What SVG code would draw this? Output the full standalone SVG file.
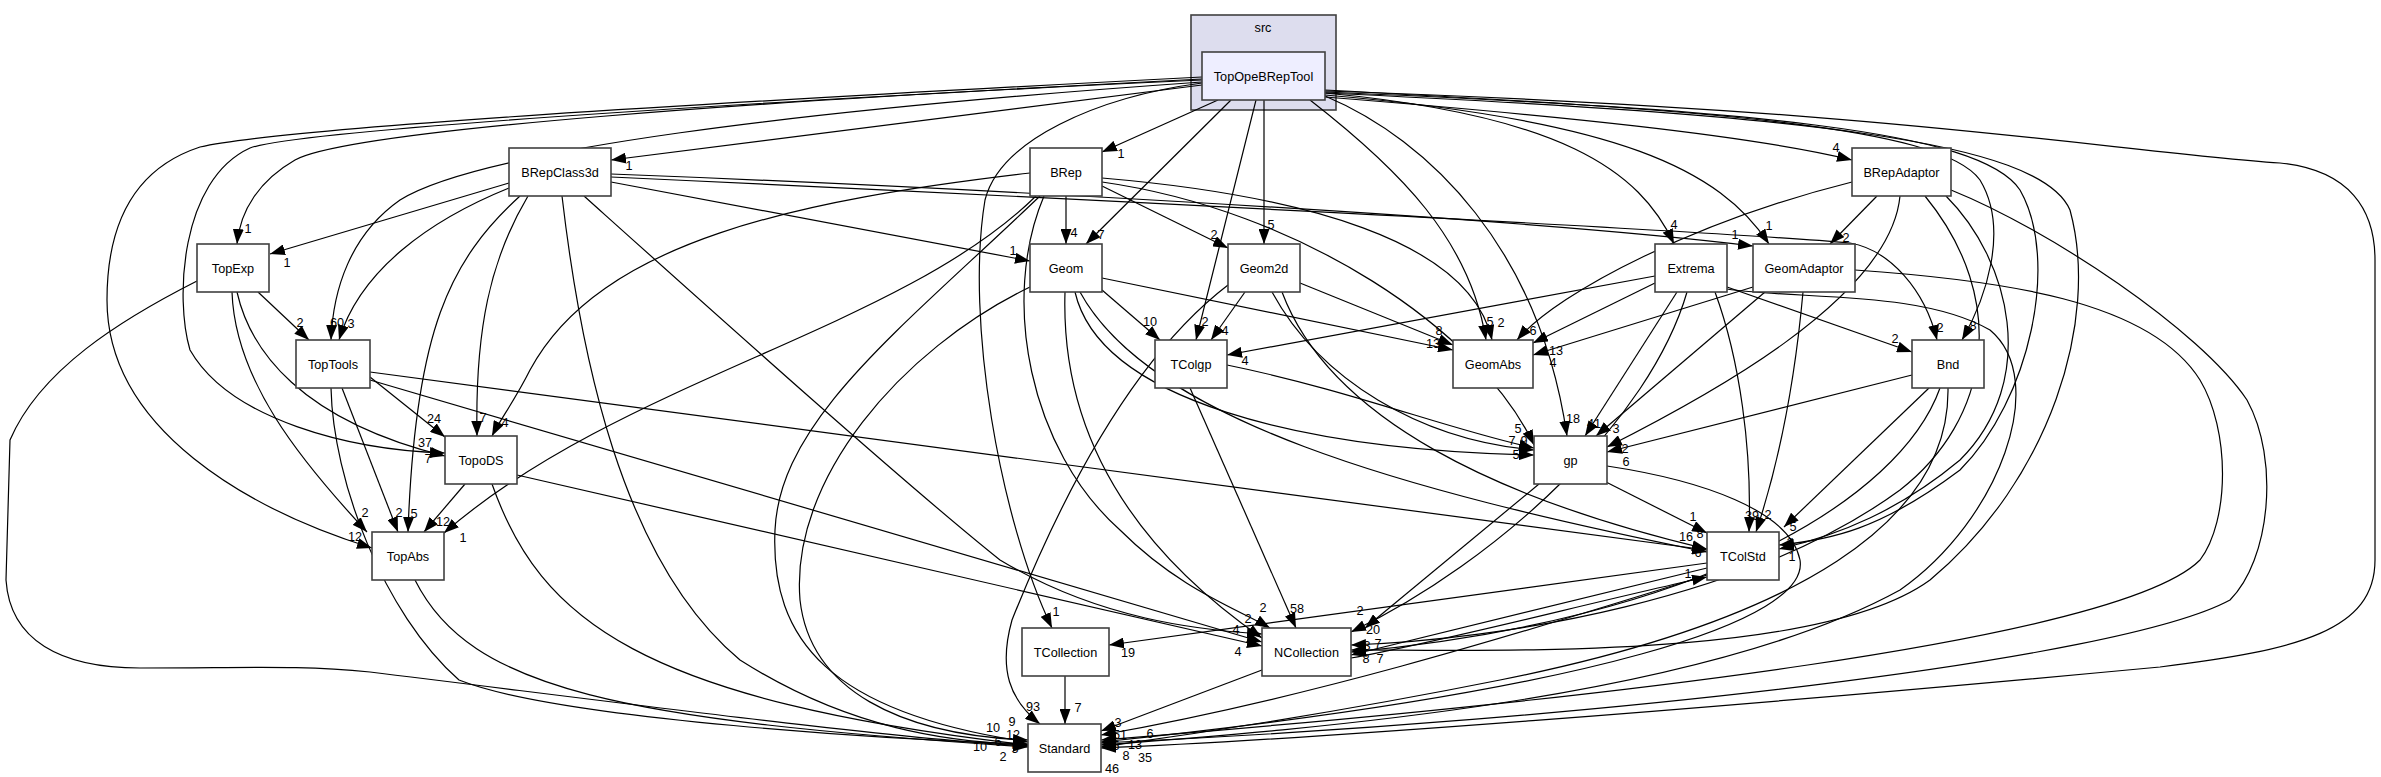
<svg xmlns="http://www.w3.org/2000/svg" width="2381" height="777" viewBox="0 0 2381 777">
<style>
.box{fill:#ffffff;stroke:#404040;stroke-width:1.6}
.nt{font-family:"Liberation Sans",Arial,sans-serif;font-size:12.7px;fill:#000;text-anchor:middle}
.e{fill:none;stroke:#000;stroke-width:1.2;marker-end:url(#ah)}
.l{font-family:"Liberation Sans",Arial,sans-serif;font-size:12.7px;fill:#000;text-anchor:middle}
</style>
<defs>
<marker id="ah" markerUnits="userSpaceOnUse" markerWidth="15" markerHeight="11" viewBox="0 0 15 11" refX="15" refY="5.5" orient="auto">
<path d="M0,0 L15,5.5 L0,11 z" fill="#000"/>
</marker>
</defs>
<rect width="2381" height="777" fill="#fff"/>
<g id="cluster-src">
<rect x="1191" y="15" width="145" height="95" fill="#ddddee" stroke="#404040" stroke-width="1.6"/>
<text class="nt" x="1263" y="32">src</text>
</g>
<g id="edges">
<path class="e" d="M1202,85 L611,160"/><text class="l" x="629" y="170">1</text>
<path class="e" d="M1218,100 L1102,152"/><text class="l" x="1121" y="158">1</text>
<path class="e" d="M1325,97 C1550,115 1750,135 1852,160"/><text class="l" x="1836" y="152">4</text>
<path class="e" d="M1202,80 C760,100 350,130 295,160 C260,180 240,210 237,244"/><text class="l" x="248" y="233">1</text>
<path class="e" d="M1231,100 L1086,244"/><text class="l" x="1101" y="239">7</text>
<path class="e" d="M1264,100 L1264,244"/><text class="l" x="1271" y="229">5</text>
<path class="e" d="M1325,93 C1560,115 1640,170 1674,244"/><text class="l" x="1674" y="229">4</text>
<path class="e" d="M1325,95 C1620,120 1720,170 1769,244"/><text class="l" x="1769" y="230">1</text>
<path class="e" d="M1202,82 C800,110 480,150 400,200 C350,235 333,290 331,340"/><text class="l" x="337" y="327">60</text>
<path class="e" d="M1256,100 L1196,340"/><text class="l" x="1205" y="326">2</text>
<path class="e" d="M1310,100 C1400,170 1470,240 1486,340"/><text class="l" x="1490" y="326">5</text>
<path class="e" d="M1325,90 C1700,110 1940,125 1980,180 C2010,230 1985,300 1962,340"/><text class="l" x="1973" y="330">8</text>
<path class="e" d="M1202,79 C700,105 300,130 250,148 C180,180 175,300 190,350 C230,420 350,450 445,453"/><text class="l" x="425" y="447">37</text>
<path class="e" d="M1325,96 C1430,140 1540,250 1567,436"/><text class="l" x="1573" y="423">18</text>
<path class="e" d="M1202,77 C700,103 280,128 200,147 C130,170 107,230 107,300 C107,430 250,510 372,548"/><text class="l" x="355" y="541">12</text>
<path class="e" d="M1325,92 C1750,110 1980,130 2020,190 C2060,260 2030,400 1960,470 C1880,530 1830,540 1779,545"/><text class="l" x="1790" y="547">2</text>
<path class="e" d="M1325,93 C1800,115 2040,140 2070,210 C2100,320 2050,480 1930,580 C1820,660 1500,650 1351,650"/><text class="l" x="1378" y="648">7</text>
<path class="e" d="M1325,91 C1900,110 2100,150 2280,163 C2350,170 2375,210 2375,260 L2375,560 C2375,630 2300,650 2160,667 C1700,710 1300,740 1101,748"/><text class="l" x="1145" y="762">35</text>
<path class="e" d="M1202,83 C1097,97 1000,140 985,200 C965,320 1000,520 1052,628"/><text class="l" x="1056" y="616">1</text>
<path class="e" d="M509,183 L270,254"/><text class="l" x="287" y="267">1</text>
<path class="e" d="M509,188 C430,220 360,270 339,340"/><text class="l" x="351" y="328">3</text>
<path class="e" d="M611,182 L1030,261"/><text class="l" x="1013" y="255">1</text>
<path class="e" d="M611,174 C900,185 1500,215 1753,246"/><text class="l" x="1735" y="239">1</text>
<path class="e" d="M611,177 C1000,195 1700,230 1850,243 C1890,250 1925,290 1937,340"/><text class="l" x="1940" y="332">2</text>
<path class="e" d="M528,196 C490,260 475,330 477,436"/><text class="l" x="483" y="422">7</text>
<path class="e" d="M520,196 C450,260 415,330 408,532"/><text class="l" x="414" y="518">5</text>
<path class="e" d="M562,196 C580,350 620,560 740,660 C850,730 950,742 1028,745"/><text class="l" x="1013" y="739">12</text>
<path class="e" d="M584,196 C700,300 900,480 1000,560 C1100,620 1200,630 1262,634"/><text class="l" x="1248" y="623">2</text>
<path class="e" d="M1066,196 L1066,244"/><text class="l" x="1074" y="237">4</text>
<path class="e" d="M1102,186 L1228,248"/><text class="l" x="1214" y="239">2</text>
<path class="e" d="M1102,178 C1300,195 1470,240 1492,340"/><text class="l" x="1501" y="327">2</text>
<path class="e" d="M1030,173 C800,200 600,240 530,370 C515,400 500,420 492,436"/><text class="l" x="505" y="427">4</text>
<path class="e" d="M1036,196 C900,330 620,380 444,533"/><text class="l" x="463" y="542">1</text>
<path class="e" d="M1040,196 C900,330 780,420 775,530 C770,640 830,713 1028,742"/><text class="l" x="993" y="732">10</text>
<path class="e" d="M1102,182 C1300,210 1480,330 1534,445"/><text class="l" x="1518" y="433">5</text>
<path class="e" d="M1044,196 C1000,300 1030,450 1120,530 C1180,590 1240,610 1270,628"/><text class="l" x="1263" y="612">2</text>
<path class="e" d="M1102,290 L1160,340"/><text class="l" x="1150" y="326">10</text>
<path class="e" d="M1102,278 L1453,350"/><text class="l" x="1433" y="348">13</text>
<path class="e" d="M1075,292 C1100,400 1300,450 1534,455"/><text class="l" x="1512" y="445">7</text>
<path class="e" d="M1065,292 C1060,450 1150,560 1262,638"/><text class="l" x="1236" y="634">4</text>
<path class="e" d="M1080,292 C1150,420 1400,490 1707,552"/><text class="l" x="1698" y="557">6</text>
<path class="e" d="M1030,287 C900,350 790,480 800,600 C810,690 900,735 1028,740"/><text class="l" x="1012" y="726">9</text>
<path class="e" d="M1245,292 L1211,340"/><text class="l" x="1225" y="335">4</text>
<path class="e" d="M1300,283 L1453,345"/><text class="l" x="1439" y="335">8</text>
<path class="e" d="M1272,292 C1320,380 1420,440 1534,450"/><text class="l" x="1524" y="445">9</text>
<path class="e" d="M1282,292 C1330,420 1500,500 1707,549"/><text class="l" x="1700" y="538">8</text>
<path class="e" d="M1228,285 C1130,360 1060,500 1012,620 C998,670 1010,700 1040,724"/><text class="l" x="1033" y="711">93</text>
<path class="e" d="M1655,276 L1227,355"/><text class="l" x="1245" y="365">4</text>
<path class="e" d="M1655,283 L1533,343"/><text class="l" x="1556" y="355">13</text>
<path class="e" d="M1677,292 L1585,436"/><text class="l" x="1594" y="428">41</text>
<path class="e" d="M1715,292 C1740,360 1752,450 1749,532"/><text class="l" x="1752" y="520">39</text>
<path class="e" d="M1727,287 L1912,352"/><text class="l" x="1895" y="343">2</text>
<path class="e" d="M1687,292 C1650,420 1500,560 1351,632"/><text class="l" x="1373" y="634">20</text>
<path class="e" d="M1727,289 C1800,300 1920,290 1990,330 C2050,380 2000,520 1900,590 C1700,700 1300,730 1101,745"/><text class="l" x="1150" y="738">6</text>
<path class="e" d="M1753,287 L1533,355"/><text class="l" x="1553" y="367">4</text>
<path class="e" d="M1765,292 L1596,436"/><text class="l" x="1616" y="433">3</text>
<path class="e" d="M1803,292 C1795,380 1780,460 1756,532"/><text class="l" x="1768" y="519">2</text>
<path class="e" d="M1855,270 C2000,280 2150,300 2200,380 C2230,430 2230,520 2200,560 C2120,640 1600,700 1101,740"/><text class="l" x="1116" y="750">5</text>
<path class="e" d="M1877,196 L1830,244"/><text class="l" x="1846" y="242">2</text>
<path class="e" d="M1852,182 C1700,220 1560,290 1517,340"/><text class="l" x="1533" y="335">6</text>
<path class="e" d="M1900,196 C1890,300 1700,400 1607,447"/><text class="l" x="1625" y="453">2</text>
<path class="e" d="M1946,196 C2010,260 2040,380 1960,460 C1900,510 1840,535 1779,549"/><text class="l" x="1792" y="561">1</text>
<path class="e" d="M1925,196 C2010,300 1990,420 1900,490 C1750,600 1500,640 1351,645"/><text class="l" x="1367" y="650">3</text>
<path class="e" d="M1951,190 C2050,230 2200,330 2247,400 C2280,460 2270,560 2230,600 C2120,660 1600,720 1101,743"/><text class="l" x="1126" y="760">8</text>
<path class="e" d="M1912,375 L1607,452"/><text class="l" x="1626" y="466">6</text>
<path class="e" d="M1929,388 L1784,527"/><text class="l" x="1793" y="531">5</text>
<path class="e" d="M1940,388 C1900,500 1700,620 1351,652"/><text class="l" x="1366" y="663">8</text>
<path class="e" d="M1948,388 C1950,520 1800,620 1500,680 C1300,720 1150,740 1101,747"/><text class="l" x="1112" y="773">46</text>
<path class="e" d="M258,292 L309,340"/><text class="l" x="300" y="327">2</text>
<path class="e" d="M237,292 C250,350 300,420 445,456"/><text class="l" x="428" y="463">7</text>
<path class="e" d="M232,292 C235,380 300,460 367,532"/><text class="l" x="365" y="517">2</text>
<path class="e" d="M197,281 C120,320 40,370 10,440 L6,580 C10,640 60,668 140,668 C250,668 300,665 370,672 C600,700 900,740 1028,746"/><text class="l" x="1015" y="753">5</text>
<path class="e" d="M370,377 L445,437"/><text class="l" x="434" y="423">24</text>
<path class="e" d="M342,388 L398,532"/><text class="l" x="399" y="517">2</text>
<path class="e" d="M370,372 L1707,550"/><text class="l" x="1686" y="541">16</text>
<path class="e" d="M370,380 L1262,642"/><text class="l" x="1250" y="646">6</text>
<path class="e" d="M331,388 C333,480 383,613 459,680 C560,720 900,740 1028,744"/><text class="l" x="998" y="746">6</text>
<path class="e" d="M465,484 L424,532"/><text class="l" x="443" y="526">12</text>
<path class="e" d="M517,475 L1262,646"/><text class="l" x="1238" y="656">4</text>
<path class="e" d="M492,484 C540,620 640,700 1028,745"/><text class="l" x="980" y="751">10</text>
<path class="e" d="M415,580 C470,690 620,720 1028,747"/><text class="l" x="1003" y="761">2</text>
<path class="e" d="M1227,365 C1350,390 1450,430 1534,448"/><text class="l" x="1516" y="459">5</text>
<path class="e" d="M1190,388 L1296,628"/><text class="l" x="1297" y="613">58</text>
<path class="e" d="M1606,482 L1707,533"/><text class="l" x="1693" y="521">1</text>
<path class="e" d="M1539,484 L1365,628"/><text class="l" x="1360" y="615">2</text>
<path class="e" d="M1607,466 C1700,480 1790,510 1800,560 C1810,620 1600,690 1101,742"/><text class="l" x="1135" y="749">13</text>
<path class="e" d="M1707,563 L1109,645"/><text class="l" x="1128" y="657">19</text>
<path class="e" d="M1707,568 L1351,655"/><text class="l" x="1380" y="663">7</text>
<path class="e" d="M1707,575 C1500,640 1300,700 1101,735"/><text class="l" x="1120" y="739">51</text>
<path class="e" d="M1351,658 C1450,640 1600,600 1707,577"/><text class="l" x="1688" y="578">1</text>
<path class="e" d="M1262,670 L1101,731"/><text class="l" x="1118" y="727">3</text>
<path class="e" d="M1065,676 L1065,724"/><text class="l" x="1078" y="712">7</text>
</g>
<g id="node-TopOpeBRepTool"><rect x="1202" y="52" width="123" height="48" fill="#eeeeff" stroke="#404040" stroke-width="1.6"/><text class="nt" x="1263.5" y="81">TopOpeBRepTool</text></g>
<g id="node-BRepClass3d"><rect class="box" x="509" y="148" width="102" height="48"/><text class="nt" x="560" y="177">BRepClass3d</text></g>
<g id="node-BRep"><rect class="box" x="1030" y="148" width="72" height="48"/><text class="nt" x="1066" y="177">BRep</text></g>
<g id="node-BRepAdaptor"><rect class="box" x="1852" y="148" width="99" height="48"/><text class="nt" x="1901.5" y="177">BRepAdaptor</text></g>
<g id="node-TopExp"><rect class="box" x="197" y="244" width="72" height="48"/><text class="nt" x="233" y="273">TopExp</text></g>
<g id="node-Geom"><rect class="box" x="1030" y="244" width="72" height="48"/><text class="nt" x="1066" y="273">Geom</text></g>
<g id="node-Geom2d"><rect class="box" x="1228" y="244" width="72" height="48"/><text class="nt" x="1264" y="273">Geom2d</text></g>
<g id="node-Extrema"><rect class="box" x="1655" y="244" width="72" height="48"/><text class="nt" x="1691" y="273">Extrema</text></g>
<g id="node-GeomAdaptor"><rect class="box" x="1753" y="244" width="102" height="48"/><text class="nt" x="1804" y="273">GeomAdaptor</text></g>
<g id="node-TopTools"><rect class="box" x="296" y="340" width="74" height="48"/><text class="nt" x="333" y="369">TopTools</text></g>
<g id="node-TColgp"><rect class="box" x="1155" y="340" width="72" height="48"/><text class="nt" x="1191" y="369">TColgp</text></g>
<g id="node-GeomAbs"><rect class="box" x="1453" y="340" width="80" height="48"/><text class="nt" x="1493" y="369">GeomAbs</text></g>
<g id="node-Bnd"><rect class="box" x="1912" y="340" width="72" height="48"/><text class="nt" x="1948" y="369">Bnd</text></g>
<g id="node-TopoDS"><rect class="box" x="445" y="436" width="72" height="48"/><text class="nt" x="481" y="465">TopoDS</text></g>
<g id="node-gp"><rect class="box" x="1534" y="436" width="73" height="48"/><text class="nt" x="1570.5" y="465">gp</text></g>
<g id="node-TopAbs"><rect class="box" x="372" y="532" width="72" height="48"/><text class="nt" x="408" y="561">TopAbs</text></g>
<g id="node-TColStd"><rect class="box" x="1707" y="532" width="72" height="48"/><text class="nt" x="1743" y="561">TColStd</text></g>
<g id="node-TCollection"><rect class="box" x="1022" y="628" width="87" height="48"/><text class="nt" x="1065.5" y="657">TCollection</text></g>
<g id="node-NCollection"><rect class="box" x="1262" y="628" width="89" height="48"/><text class="nt" x="1306.5" y="657">NCollection</text></g>
<g id="node-Standard"><rect class="box" x="1028" y="724" width="73" height="48"/><text class="nt" x="1064.5" y="753">Standard</text></g>
</svg>
